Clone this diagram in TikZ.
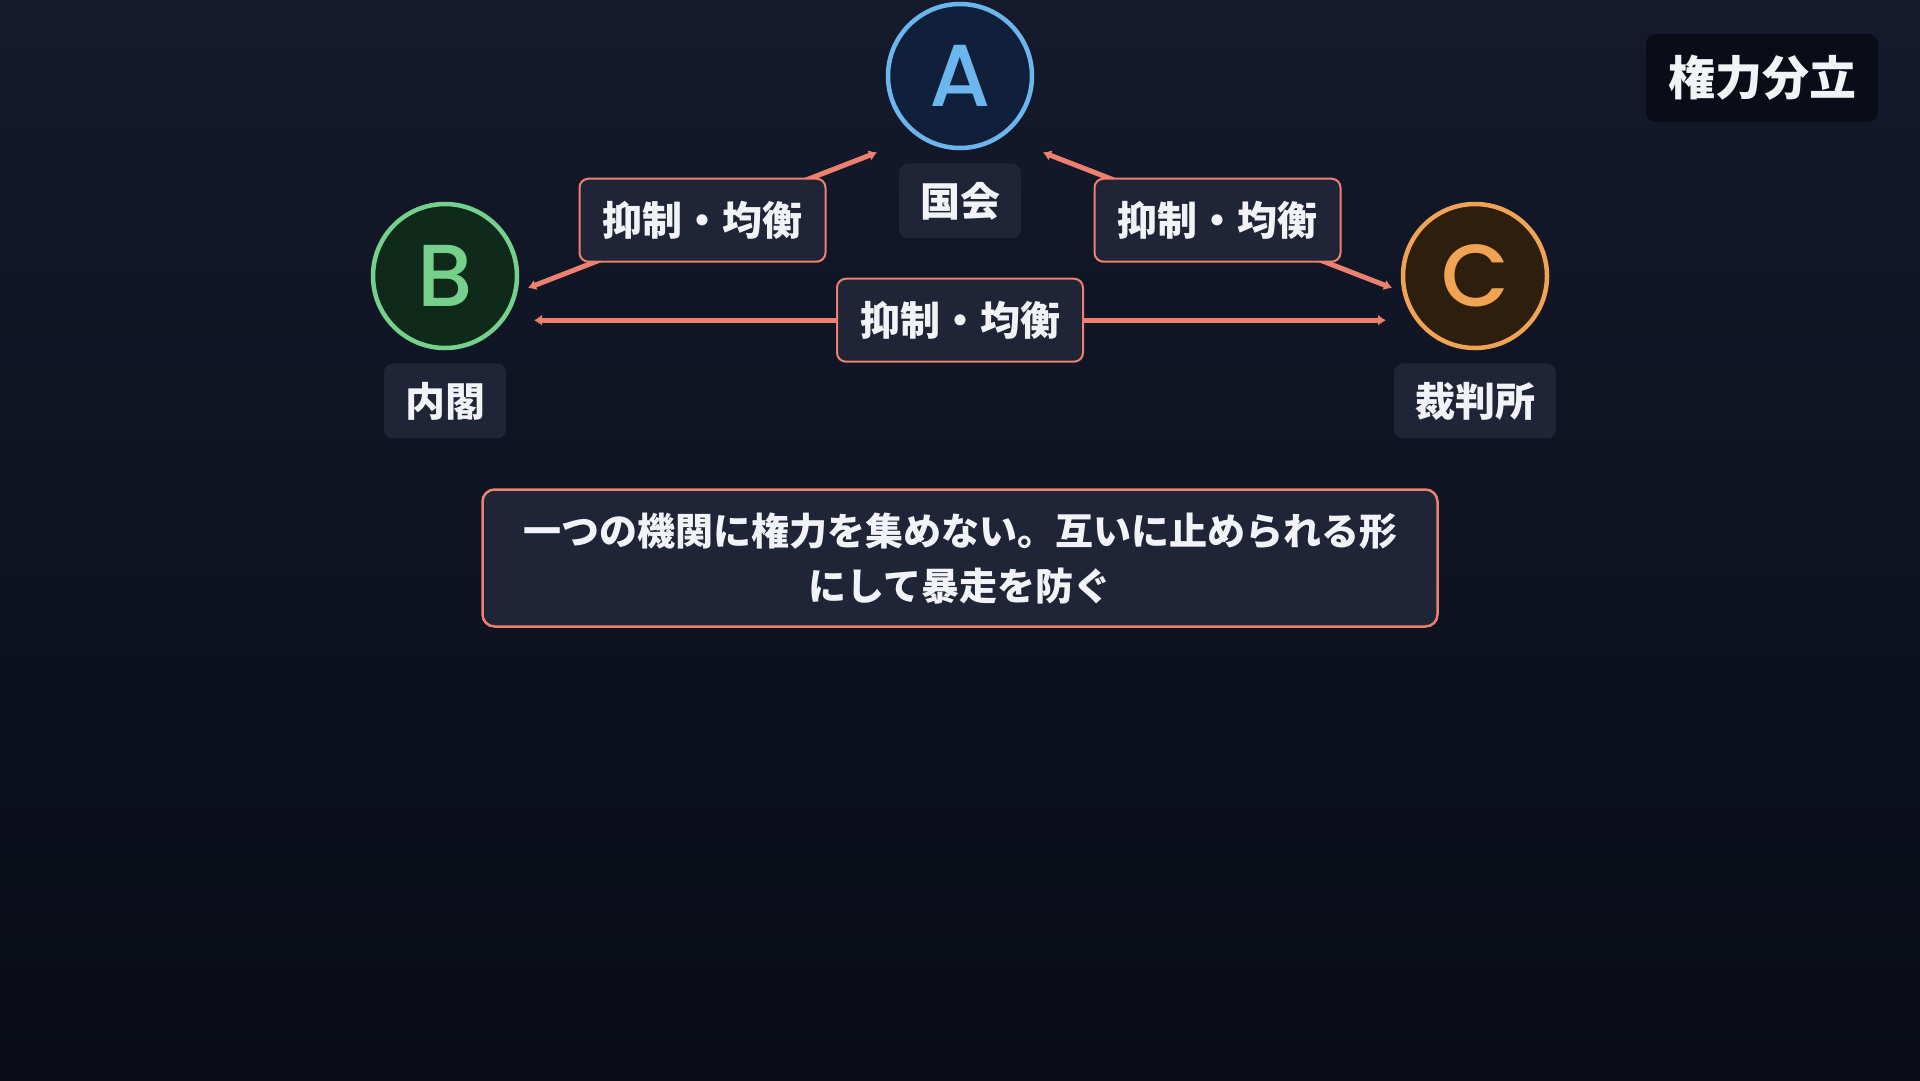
\documentclass[tikz,border=0pt]{standalone}
\usepackage{fontspec}
\newfontfamily\jpfont{Noto Sans CJK JP}
\newfontfamily\letterfont{Poppins Medium}
\usetikzlibrary{fit}
\usetikzlibrary{positioning}
\usetikzlibrary{arrows.meta}
\definecolor{bg-top}{HTML}{141A2C}
\definecolor{bg-bottom}{HTML}{090C16}
\definecolor{box-fill}{HTML}{1F2436}
\definecolor{title-fill}{HTML}{0A0D17}
\definecolor{text-white}{HTML}{F2F3F7}
\definecolor{diet-blue}{HTML}{6CB6EE}
\definecolor{diet-fill}{HTML}{10203A}
\definecolor{cabinet-green}{HTML}{74D08A}
\definecolor{cabinet-fill}{HTML}{0F2A1B}
\definecolor{court-orange}{HTML}{F0A352}
\definecolor{court-fill}{HTML}{2D1E0E}
\definecolor{check}{HTML}{EE8070}
\newcommand{\tikzorgan}[5][]{%
% circle, name box below it, and a group around both
\node[organ,#1] (#2) at (#3) {#4};
\node[namebox, below=13pt of #2] (#2-name) {#5};
\node[fit=(#2)(#2-name), inner sep=0pt] (#2-group) {};
}
\newcommand{\tikzcheck}[2]{%
\draw[checkline] (#1-group.center) -- node[checkbox] (#1-#2) {抑制・均衡} (#2-group.center);
}

\begin{document}
\begin{tikzpicture}[x=1pt, y=-1pt,
  organ/.style={circle, line width=4.5pt, minimum size=144pt, inner sep=0pt, font=\letterfont\fontsize{88}{88}\selectfont},
  namebox/.style={fill=box-fill, rounded corners=9pt, text=text-white, inner xsep=21pt, minimum height=75pt, font=\jpfont\bfseries\fontsize{40}{40}\selectfont},
  checkbox/.style={namebox, draw=check, line width=2pt, inner xsep=23pt, minimum height=83pt},
  checkline/.style={draw=check, line width=5pt, shorten <=89pt, shorten >=89pt, {Latex[length=8pt,width=11pt]}-{Latex[length=8pt,width=11pt]}}]
% background
\shade[top color=bg-top, bottom color=bg-bottom] (0,0) rectangle (1920,1080);
\useasboundingbox (0,0) rectangle (1920,1080);
% the three organs
\tikzorgan[draw=diet-blue, fill=diet-fill, text=diet-blue]{diet}{960,76}{A}{国会}
\tikzorgan[draw=cabinet-green, fill=cabinet-fill, text=cabinet-green]{cabinet}{445,276}{B}{内閣}
\tikzorgan[draw=court-orange, fill=court-fill, text=court-orange]{court}{1475,276}{C}{裁判所}
% checks and balances
\tikzcheck{diet}{cabinet}
\tikzcheck{diet}{court}
\tikzcheck{cabinet}{court}
% title and note
\node[namebox, fill=title-fill, rounded corners=10pt, inner xsep=22pt, minimum height=88pt, font=\jpfont\bfseries\fontsize{47}{47}\selectfont] (title) at (1762,78) {権力分立};
\node[namebox, draw=check, line width=2.5pt, rounded corners=12pt, minimum width=955pt, minimum height=137pt, align=center, font=\jpfont\bfseries\fontsize{38}{55}\selectfont] (note) at (960,558) {一つの機関に権力を集めない。互いに止められる形\\にして暴走を防ぐ};
\end{tikzpicture}
\end{document}
